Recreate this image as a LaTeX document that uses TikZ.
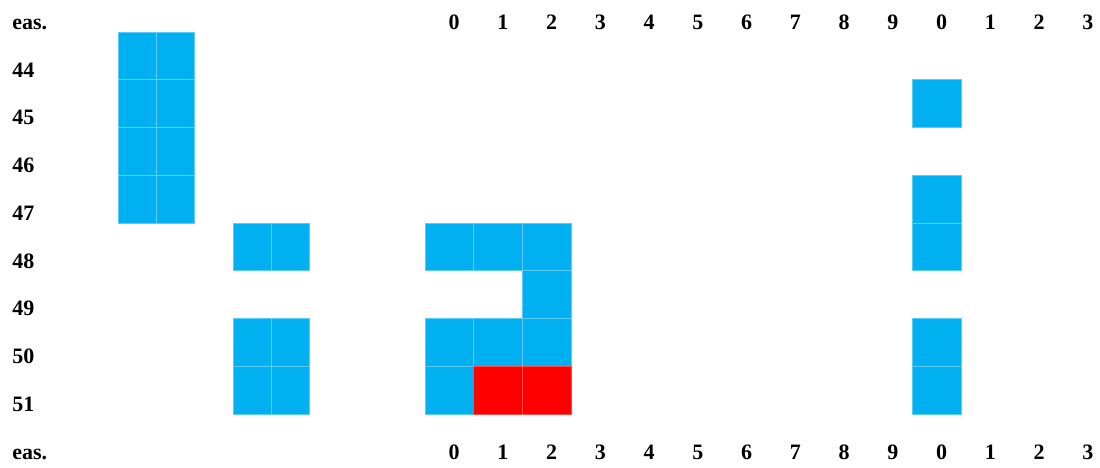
\documentclass[tikz,border=0pt]{standalone}
\usepackage{fontspec}
\setmainfont{Liberation Serif}
\usepackage{xcolor}
\usepackage{tikz}
\usetikzlibrary{positioning}
\definecolor{cellBlue}{HTML}{00B0F0}
\definecolor{cellRed}{HTML}{FF0000}
\definecolor{seamBlue}{HTML}{5CCBF5}
\definecolor{seamRed}{HTML}{FF4D4D}

\begin{document}
\begin{tikzpicture}[
    x=0.5pt,y=-0.5pt,
    every node/.style={font=\fontsize{11}{13}\selectfont\bfseries,inner sep=0pt},
    rowlbl/.style={anchor=base west},
    collbl/.style={anchor=base},
    bluecell/.style={fill=cellBlue,draw=seamBlue,line width=0.3pt},
    redcell/.style={fill=cellRed,draw=seamRed,line width=0.3pt}
  ]
  \useasboundingbox (0,0) rectangle (1100,467);
  %% row labels
  \node[rowlbl] (eastop) at (12,29.3) {eas.};
  \foreach \r in {1,...,8} {
    \pgfmathtruncatemacro\num{43+\r}
    \node[rowlbl] (row\num) at ({12},{29.3+47.75*\r}) {\num};
  }
  \node[rowlbl] (easbot) at (12,459) {eas.};
  %% column labels, top and bottom
  \foreach \c in {0,...,13} {
    \pgfmathtruncatemacro\dig{mod(\c,10)}
    \node[collbl] (top\c) at ({454+48.75*\c},29.3) {\dig};
    \node[collbl] (bot\c) at ({454+48.75*\c},459) {\dig};
  }
  %% narrow columns (left part)
  \foreach \j/\r in {0/0,0/1,0/2,0/3,1/0,1/1,1/2,1/3,
                     3/4,4/4,3/6,4/6,3/7,4/7}
    \draw[bluecell] ({118+38.3*\j},{32+47.75*\r}) rectangle ++(38.3,47.75);
  %% wide columns (numbered part)
  \foreach \k/\r in {0/4,1/4,2/4,2/5,0/6,1/6,2/6,0/7,
                     10/1,10/3,10/4,10/6,10/7}
    \draw[bluecell] ({425+48.75*\k},{32+47.75*\r}) rectangle ++(48.75,47.75);
  \foreach \k/\r in {1/7,2/7}
    \draw[redcell] ({425+48.75*\k},{32+47.75*\r}) rectangle ++(48.75,47.75);
\end{tikzpicture}
\end{document}
